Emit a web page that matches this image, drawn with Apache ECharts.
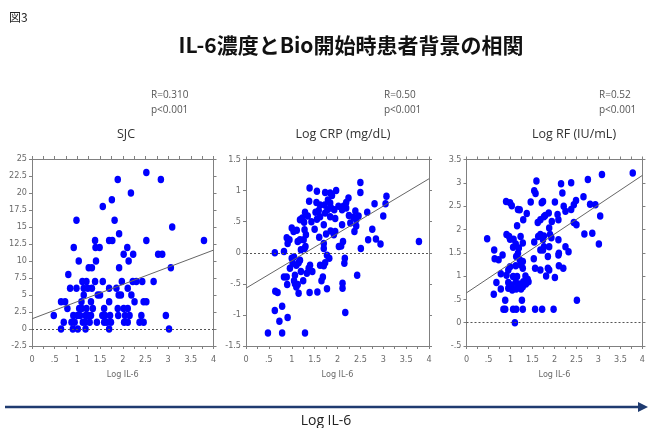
<!DOCTYPE html>
<html><head><meta charset="utf-8">
<script src="https://cdn.jsdelivr.net/npm/echarts@6/dist/echarts.min.js"></script>
<style>html,body{margin:0;padding:0;background:#fff}#c{width:648px;height:428px}</style>
</head><body><div id="c"></div>
<script>
const panelNames = ['SJC', 'Log CRP (mg/dL)', 'Log RF (IU/mL)'];
const rTexts = ['R=0.310', 'R=0.50', 'R=0.52'];
const pTexts = ['p<0.001', 'p<0.001', 'p<0.001'];
const xName = 'Log IL-6';
const yMin = [-2.5, -1.5, -0.5];
const yMax = [25, 1.5, 3.5];
const yStep = [2.5, 0.5, 0.5];

const sjcData = [
[2.52,23],[2.84,22],[1.89,22],[2.18,20],[1.76,19],[1.56,18],[0.98,16],[1.82,16],[3.09,15],[1.92,14],
[3.79,13],[2.52,13],[1.39,13],[1.70,13],[1.77,13],[0.92,12],[2.10,12],[1.40,12],[1.49,12],
[2.02,11],[2.23,11],[2.78,11],[2.87,11],[1.03,10],[1.41,10],[2.13,10],[1.25,9],[1.32,9],[1.92,9],[3.06,9],[0.80,8],
[1.11,7],[1.20,7],[1.39,7],[1.56,7],[1.98,7],[2.22,7],[2.30,7],[2.43,7],[2.68,7],
[0.84,6],[0.98,6],[1.14,6],[1.23,6],[1.32,6],[1.70,6],[1.86,6],[2.11,6],
[1.14,5],[1.45,5],[1.50,5],[1.91,5],[1.96,5],[2.19,5],
[0.64,4],[0.73,4],[1.09,4],[1.30,4],[1.70,4],[2.26,4],[2.46,4],[2.52,4],
[0.78,3],[1.04,3],[1.34,3],[1.59,3],[1.89,3],[2.02,3],[2.11,3],[1.10,3],[1.20,3],
[0.48,2],[0.91,2],[1.06,2],[1.18,2],[1.25,2],[1.61,2],[1.72,2],[2.15,2],[2.41,2],[2.95,2],[1.00,2],[1.30,2],[1.55,2],[1.90,2],[2.05,2],
[0.70,1],[0.87,1],[0.94,1],[1.18,1],[1.27,1],[1.43,1],[1.59,1],[1.74,1],[2.03,1],[2.11,1],[2.37,1],[2.46,1],[1.12,1],[1.65,1],
[0.64,0],[0.90,0],[1.01,0],[1.18,0],[1.70,0],[3.02,0]
];
const crpData = [
[0.48,-1.29],[0.79,-1.29],[1.29,-1.29],[0.73,-1.10],[0.91,-1.04],[0.63,-0.93],[0.79,-0.86],[2.17,-0.96],
[0.64,-0.62],[0.69,-0.64],[1.13,-0.51],[1.07,-0.50],[1.15,-0.65],[1.39,-0.64],[1.56,-0.63],[1.77,-0.58],[2.11,-0.49],[2.11,-0.57],[2.43,-0.36],
[0.83,-0.39],[0.89,-0.39],[0.90,-0.51],[1.07,-0.36],[1.68,-0.39],[1.33,-0.33],[1.37,-0.25],[1.40,-0.20],[1.70,-0.21],[1.73,-0.16],[1.62,-0.20],
[0.96,-0.25],[1.02,-0.17],[1.10,-0.20],[1.15,-0.16],[1.18,-0.12],[1.00,-0.09],[1.05,-0.07],[2.15,-0.17],[2.16,-0.09],[1.82,-0.09],[1.77,-0.04],
[0.63,0.00],[0.83,0.02],[2.51,0.07],[1.28,0.07],[1.20,0.05],[1.70,0.07],[1.70,0.15],[2.08,0.11],[2.12,0.18],[2.03,0.10],
[0.91,0.15],[0.95,0.21],[0.89,0.24],[1.13,0.18],[1.18,0.21],[1.26,0.21],[1.31,0.29],[2.67,0.21],[2.84,0.22],[2.94,0.14],[3.78,0.18],[2.76,0.38],
[1.92,0.29],[1.95,0.34],[1.00,0.40],[1.04,0.34],[1.11,0.36],[1.50,0.38],[1.28,0.37],[2.10,0.45],[2.28,0.48],[2.37,0.34],[2.41,0.43],[1.70,0.45],
[1.18,0.53],[1.23,0.56],[1.27,0.49],[1.43,0.50],[1.55,0.54],[1.62,0.58],[1.73,0.64],[1.84,0.58],[2.35,0.57],[2.46,0.59],[2.41,0.53],[2.65,0.65],[3.00,0.59],
[1.29,0.65],[1.35,0.59],[1.52,0.65],[1.59,0.68],[1.78,0.69],[1.86,0.72],[1.93,0.69],[2.10,0.69],[2.19,0.72],[2.39,0.67],[2.02,0.75],[2.13,0.75],
[1.72,0.77],[1.84,0.80],[2.81,0.79],[3.05,0.79],[1.38,0.83],[1.54,0.81],[1.62,0.77],[2.19,0.81],[2.24,0.88],[1.79,0.85],[1.88,0.92],[3.07,0.91],
[1.39,1.04],[1.55,0.99],[1.73,0.97],[1.84,0.96],[1.97,1.00],[2.50,0.97],[2.50,1.13],
[1.20,-0.30],[1.25,-0.45],[1.10,-0.55],[1.05,-0.45],[1.30,0.10],[1.45,-0.30],[1.65,-0.45],[1.60,0.25],[1.85,0.35],[1.95,0.55],[2.25,0.60],[1.75,0.30]
];
const rfData = [
[3.78,3.21],[3.08,3.18],[2.76,3.07],[1.59,3.04],[2.38,3.00],[2.15,2.98],[1.54,2.83],[1.57,2.77],[2.18,2.78],
[0.90,2.60],[0.99,2.57],[1.03,2.51],[1.46,2.59],[1.71,2.57],[1.74,2.60],[2.01,2.59],[2.49,2.62],[2.66,2.70],
[2.21,2.50],[2.38,2.43],[2.44,2.53],[1.17,2.43],[1.21,2.42],[2.81,2.54],[2.93,2.53],[1.37,2.34],[1.87,2.35],[1.79,2.30],[1.76,2.27],
[1.29,2.21],[2.07,2.32],[2.09,2.21],[3.04,2.29],[2.25,2.39],[1.62,2.15],[1.68,2.21],[1.94,2.17],[2.44,2.15],[2.50,2.10],[1.15,2.08],[1.88,2.03],
[0.91,1.89],[0.97,1.85],[0.99,1.79],[0.47,1.80],[1.63,1.85],[1.68,1.89],[1.76,1.86],[1.90,1.89],[1.93,1.82],[2.68,1.90],[2.86,1.92],
[1.07,1.79],[1.23,1.85],[1.54,1.73],[2.09,1.78],[1.12,1.69],[1.06,1.62],[1.74,1.78],[3.01,1.69],[1.76,1.63],[1.88,1.63],[1.19,1.60],[1.28,1.71],
[2.25,1.63],[2.32,1.52],[1.74,1.56],[0.63,1.56],[0.64,1.37],[0.73,1.35],[0.82,1.45],[1.17,1.49],[1.13,1.42],[1.68,1.56],[2.09,1.45],[2.10,1.49],
[1.53,1.37],[1.85,1.42],[1.21,1.35],[1.28,1.31],[0.99,1.20],[0.95,1.13],[2.10,1.22],[2.20,1.17],[1.12,1.22],[1.23,1.24],[1.28,1.17],
[1.56,1.17],[1.68,1.13],[1.85,1.17],[1.88,1.13],[1.34,1.00],[1.39,0.93],[0.78,1.05],[0.91,1.02],[1.06,0.99],[1.15,0.99],[1.81,1.00],[2.01,0.97],
[0.68,0.86],[0.95,0.86],[1.02,0.81],[1.12,0.86],[1.19,0.83],[1.29,0.88],[1.35,0.83],[1.41,0.88],[0.95,0.74],[1.04,0.70],[1.13,0.72],[0.78,0.72],
[1.24,0.72],[1.28,0.77],[0.62,0.61],[1.26,0.48],[0.88,0.48],[2.51,0.48],
[0.84,0.29],[0.88,0.29],[1.06,0.29],[1.13,0.29],[1.28,0.29],[1.56,0.29],[1.72,0.29],[1.98,0.29],[1.10,0.00]
];
const fitLines = [
  [[0, 1.5], [4, 11.6]],
  [[0, -0.57], [4, 1.19]],
  [[0, 0.64], [4, 3.16]]
];
const allData = [sjcData, crpData, rfData];

const grids = [
  {left: 32, top: 159, width: 181.5, height: 187},
  {left: 246, top: 159.5, width: 183, height: 186.5},
  {left: 466.5, top: 159.5, width: 181, height: 186.5}
];
const font = '"DejaVu Sans Condensed"';
const axisCol = '#808080';
const labCol = '#6a6a6a';
function fmt(v) {
  let s = String(Math.round(v * 100) / 100);
  return s.replace(/^0\./, '.').replace(/^-0\./, '-.');
}
const labStyle = {fontFamily: font, fontSize: 9, color: labCol};
const xAxis = [], yAxis = [], series = [];
grids.forEach((g, i) => {
  const common = {type: 'value', gridIndex: i, min: 0, max: 4, interval: 0.25,
    axisLine: {show: true, onZero: false, lineStyle: {color: axisCol, width: 1}},
    axisTick: {show: true, length: 3, lineStyle: {color: axisCol}},
    splitLine: {show: false}};
  xAxis.push(Object.assign({}, common, {position: 'bottom',
    name: xName, nameLocation: 'middle', nameGap: 24,
    nameTextStyle: Object.assign({}, labStyle),
    axisLabel: Object.assign({}, labStyle, {margin: 9,
      formatter: v => (Math.abs(v * 2 - Math.round(v * 2)) < 1e-6 ? fmt(v) : '')})}));
  xAxis.push(Object.assign({}, common, {position: 'top', axisLabel: {show: false}}));
  const yc = {type: 'value', gridIndex: i, min: yMin[i], max: yMax[i], interval: yStep[i],
    axisLine: {show: true, onZero: false, lineStyle: {color: axisCol, width: 1}},
    axisTick: {show: true, length: 3, lineStyle: {color: axisCol}},
    splitLine: {show: false}};
  yAxis.push(Object.assign({}, yc, {position: 'left',
    axisLabel: Object.assign({}, labStyle, {margin: 5, formatter: v => fmt(v)})}));
  yAxis.push(Object.assign({}, yc, {position: 'right', axisLabel: {show: false}}));
  series.push({type: 'scatter', xAxisIndex: i * 2, yAxisIndex: i * 2, data: allData[i],
    symbol: 'circle', symbolSize: [6.5, 7.5], itemStyle: {color: '#0000ff', opacity: 1},
    markLine: {silent: true, symbol: 'none', label: {show: false},
      lineStyle: {type: [2, 2], color: '#555', width: 1}, data: [{yAxis: 0}]},
    z: 3});
  series.push({type: 'line', xAxisIndex: i * 2, yAxisIndex: i * 2, data: fitLines[i],
    symbol: 'none', lineStyle: {color: '#666', width: 1}, z: 4, silent: true});
});

const rX = [151, 384, 599];
const nameX = [126, 343, 574];
const graphic = [
  {type: 'text', left: 9, top: 11, style: {text: '図3', font: '12px "Noto Sans CJK JP"', fill: '#222'}},
  {type: 'text', x: 351, y: 45, style: {text: 'IL-6濃度とBio開始時患者背景の相関', font: 'bold 21px "Noto Sans CJK JP"', fill: '#111', align: 'center', verticalAlign: 'middle'}},
  {type: 'line', shape: {x1: 5, y1: 407, x2: 641, y2: 407}, style: {stroke: '#1f3b70', lineWidth: 2.5}},
  {type: 'polygon', shape: {points: [[648, 407], [638, 402], [638, 412]]}, style: {fill: '#1f3b70'}},
  {type: 'text', x: 326, y: 421, style: {text: xName, font: '14px "Open Sans"', fill: '#222', align: 'center', verticalAlign: 'middle'}}
];
for (let i = 0; i < 3; i++) {
  graphic.push({type: 'text', x: rX[i], y: 95, style: {text: rTexts[i], font: '10px "Open Sans"', fill: '#555', verticalAlign: 'middle'}});
  graphic.push({type: 'text', x: rX[i], y: 110, style: {text: pTexts[i], font: '10px "Open Sans"', fill: '#555', verticalAlign: 'middle'}});
  graphic.push({type: 'text', x: nameX[i], y: 134, style: {text: panelNames[i], font: '12.5px "Open Sans"', fill: '#333', align: 'center', verticalAlign: 'middle'}});
}

const chart = echarts.init(document.getElementById('c'), null, {renderer: 'canvas'});
chart.setOption({animation: false, backgroundColor: '#fff', grid: grids, xAxis, yAxis, series, graphic});
</script></body></html>
